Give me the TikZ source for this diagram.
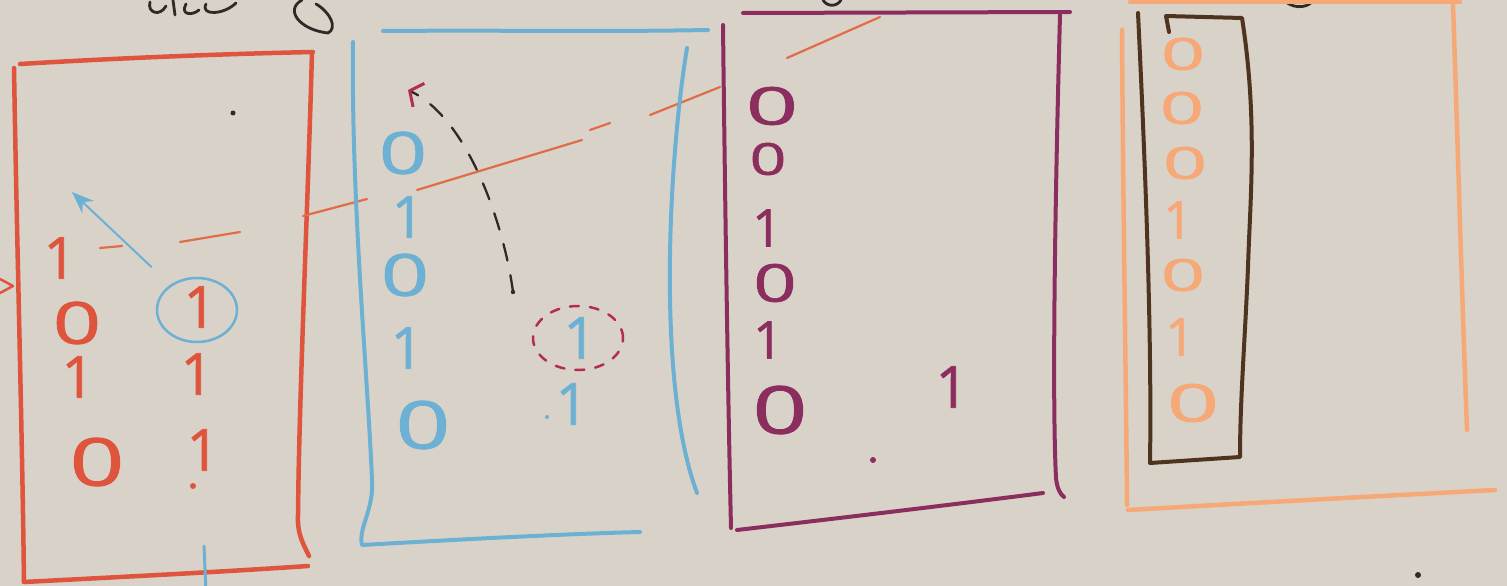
\documentclass[tikz,border=0pt]{standalone}
\usepackage{fontspec}
\usepackage{graphicx}
\newfontfamily\digfont{Open Sans}[FakeBold=1.2]
\usetikzlibrary{arrows.meta,shapes.geometric}
\definecolor{paper}{RGB}{217,210,200}
\definecolor{redc}{RGB}{222,84,60}
\definecolor{linec}{RGB}{224,108,72}
\definecolor{bluec}{RGB}{108,176,212}
\definecolor{purp}{RGB}{140,45,95}
\definecolor{maroonc}{RGB}{178,45,80}
\definecolor{oran}{RGB}{246,168,118}
\definecolor{brownc}{RGB}{78,52,32}
\definecolor{inkc}{RGB}{45,42,40}
\newcommand\digZ{\scalebox{1.45}[1]{0}}
\newcommand\digW{\scalebox{1.75}[1]{0}}
\begin{document}
\begin{tikzpicture}[x=1pt,y=-1pt,line cap=round,line join=round,
  frame/.style={line width=4.5pt},
  dig/.style={font=\fontsize{58}{58}\selectfont\digfont, inner sep=0pt},
  bigdig/.style={font=\fontsize{66}{66}\selectfont\digfont, inner sep=0pt},
  middig/.style={font=\fontsize{52}{52}\selectfont\digfont, inner sep=0pt},
  smalldig/.style={font=\fontsize{44}{44}\selectfont\digfont, inner sep=0pt},
  scrib/.style={inkc, line width=2.8pt},
  dashseg/.style={linec, line width=2.2pt},
]
\fill[paper] (0,0) rectangle (1507,586);
\useasboundingbox (0,0) rectangle (1507,586);

% ---- handwriting fragments cut at the top
\draw[scrib] (150,2) .. controls (147,13) and (160,17) .. (166,6);
\draw[scrib] (173,0) -- (175,15);
\draw[scrib] (186,4) .. controls (180,15) and (192,16) .. (199,10);
\draw[scrib] (206,4) .. controls (200,16) and (224,15) .. (236,3);
\draw[scrib] (302,0) .. controls (284,10) and (300,30) .. (328,33) .. controls (338,28) and (330,12) .. (316,4);
\draw[scrib] (823,0) .. controls (827,7) and (837,7) .. (841,0);
\draw[scrib] (1284,0) .. controls (1291,8) and (1305,9) .. (1312,2);

% ---- red frame
\draw[frame,redc] (20,64) .. controls (120,58) and (220,54) .. (313,52);
\draw[frame,redc] (14,68) .. controls (17,250) and (22,420) .. (24,582);
\draw[frame,redc] (24,582) .. controls (120,577) and (220,572) .. (308,566);
\draw[frame,redc] (312,52) .. controls (308,200) and (299,400) .. (298,515) .. controls (297,535) and (304,545) .. (309,556);
\draw[redc,line width=2.5pt] (0,279) -- (13,286) -- (0,293);
\draw[bluec,line width=3pt] (204,546) -- (206,592);

% red frame contents
\node[dig,text=redc] (ra1) at (60,258) {1};
\node[dig,text=redc] (ra2) at (77,323) {\digZ};
\node[dig,text=redc] (ra3) at (78,377) {1};
\node[bigdig,text=redc] (ra4) at (97,462) {\digZ};
\node[dig,text=redc] (rb1) at (200,307) {1};
\node[dig,text=redc] (rb2) at (197,374) {1};
\node[dig,text=redc] (rb3) at (203,450) {1};
\fill[redc] (193,486) circle (3);
\fill[inkc] (233,113) circle (2.5);
\node[draw=bluec, line width=2.5pt, ellipse, minimum width=80pt, minimum height=64pt] (rcirc) at (197,310) {};
\coordinate (rtip) at (72,192);
\draw[bluec, line width=2pt, shorten <=26pt, -{Stealth[length=22pt,width=17pt]}] (rcirc) -- (rtip);

% long dashed line
\draw[dashseg] (100,248) -- (122,246);
\draw[dashseg] (180,242) -- (240,232);
\draw[dashseg] (303,216) -- (367,199);
\draw[dashseg] (417,190) -- (582,140);
\draw[dashseg] (590,130) -- (610,123);
\draw[dashseg] (650,115) -- (720,87);
\draw[dashseg] (787,58) -- (880,17);

% ---- blue frame
\draw[frame,bluec,line width=4pt] (383,31) .. controls (500,30) and (600,32) .. (708,30);
\draw[frame,bluec,line width=4pt] (353,42) .. controls (351,200) and (368,380) .. (372,480) .. controls (374,510) and (358,528) .. (362,545) .. controls (450,540) and (560,534) .. (640,532);
\draw[frame,bluec,line width=4pt] (687,48) .. controls (670,150) and (655,380) .. (697,493);

% blue frame contents
\node[dig,text=bluec] (ba1) at (403,153) {\digZ};
\node[dig,text=bluec] (ba2) at (408,217) {1};
\node[dig,text=bluec] (ba3) at (405,275) {\digZ};
\node[dig,text=bluec] (ba4) at (407,348) {1};
\node[bigdig,text=bluec] (ba5) at (423,425) {\digZ};
\node[dig,text=bluec] (bb1) at (580,338) {1};
\node[dig,text=bluec] (bb2) at (572,404) {1};
\fill[bluec] (547,417) circle (2);
\node[draw=maroonc, line width=2.5pt, dash pattern=on 9pt off 11pt, ellipse, minimum width=90pt, minimum height=64pt] (bcirc) at (578,338) {};
\coordinate (cstart) at (513,292);
\coordinate (ctip) at (408,90);
\fill[inkc] (cstart) circle (2.2);
\draw[inkc, line width=2.3pt, dash pattern=on 17pt off 15pt, -{Straight Barb[color=maroonc,length=10pt,width=26pt,line width=3pt]}] (cstart) .. controls (505,230) and (470,120) .. (ctip);

% ---- purple frame
\draw[frame,purp,line width=4pt] (743,13) -- (1070,12);
\draw[frame,purp,line width=4pt] (723,25) .. controls (725,200) and (728,400) .. (731,528);
\draw[frame,purp,line width=4pt] (737,530) .. controls (840,518) and (950,505) .. (1043,493);
\draw[frame,purp,line width=4pt] (1060,15) .. controls (1055,200) and (1052,400) .. (1056,478) .. controls (1057,488) and (1060,494) .. (1064,497);

% purple frame contents
\node[middig,text=purp] (pa1) at (772,106) {\digW};
\node[smalldig,text=purp] (pa2) at (768,159) {\digZ};
\node[middig,text=purp] (pa3) at (767,228) {1};
\node[middig,text=purp] (pa4) at (775,283) {\digZ};
\node[middig,text=purp] (pa5) at (768,340) {1};
\node[bigdig,text=purp] (pa6) at (780,410) {\digZ};
\node[dig,text=purp] (pb1) at (952,387) {1};
\fill[purp] (873,460) circle (3);

% ---- orange frame
\draw[frame,oran] (1130,2) -- (1460,2);
\draw[frame,oran] (1122,30) .. controls (1123,200) and (1126,380) .. (1127,505);
\draw[frame,oran] (1453,5) .. controls (1458,150) and (1462,300) .. (1467,430);
\draw[frame,oran] (1128,510) .. controls (1250,503) and (1380,496) .. (1495,490);

% orange column
\node[smalldig,text=oran] (oa1) at (1183,54) {\digW};
\node[smalldig,text=oran] (oa2) at (1182,108) {\digW};
\node[smalldig,text=oran] (oa3) at (1185,163) {\digW};
\node[middig,text=oran] (oa4) at (1178,220) {1};
\node[smalldig,text=oran] (oa5) at (1183,275) {\digW};
\node[middig,text=oran] (oa6) at (1180,337) {1};
\node[middig,text=oran] (oa7) at (1193,403) {\digW};

% brown frame
\draw[brownc, line width=4pt] (1169,32) -- (1166,16) -- (1242,18) .. controls (1258,120) and (1250,200) .. (1248,267) .. controls (1245,340) and (1240,400) .. (1240,457) -- (1150,463) .. controls (1152,330) and (1145,160) .. (1138,13);

\fill[inkc] (1418,575) circle (3);
\end{tikzpicture}
\end{document}
